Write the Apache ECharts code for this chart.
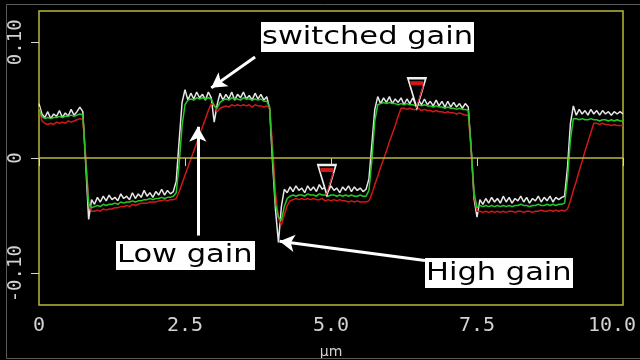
<!DOCTYPE html>
<html>
<head>
<meta charset="utf-8">
<script src="https://cdn.jsdelivr.net/npm/echarts@6/dist/echarts.min.js"></script>
<style>
  html, body { margin: 0; padding: 0; background: #000; }
  #chart { width: 640px; height: 360px; }
</style>
</head>
<body>
<div id="chart"></div>
<script>
// Profile scan: three gain settings sampled every 0.05 µm from 0 to 10 µm
const sampleStep = 0.05;

const highGain = [
  0.047, 0.038, 0.035, 0.040, 0.034, 0.038, 0.036, 0.041, 0.035, 0.039,
  0.036, 0.042, 0.037, 0.040, 0.044, 0.040, -0.005, -0.053, -0.036, -0.040,
  -0.034, -0.038, -0.033, -0.037, -0.032, -0.036, -0.034, -0.037, -0.031, -0.035,
  -0.033, -0.036, -0.030, -0.035, -0.031, -0.034, -0.028, -0.033, -0.030, -0.034,
  -0.029, -0.032, -0.027, -0.032, -0.028, -0.031, -0.029, -0.020, 0.015, 0.048,
  0.059, 0.050, 0.056, 0.051, 0.057, 0.052, 0.055, 0.050, 0.057, 0.052,
  0.031, 0.046, 0.056, 0.050, 0.055, 0.051, 0.057, 0.050, 0.055, 0.052,
  0.057, 0.051, 0.054, 0.050, 0.056, 0.051, 0.055, 0.050, 0.053, 0.042,
  -0.004, -0.045, -0.073, -0.042, -0.027, -0.030, -0.025, -0.029, -0.024, -0.028,
  -0.026, -0.030, -0.024, -0.028, -0.025, -0.029, -0.023, -0.027, -0.025, -0.029,
  -0.024, -0.028, -0.026, -0.030, -0.025, -0.028, -0.024, -0.029, -0.025, -0.028,
  -0.026, -0.029, -0.027, -0.018, 0.012, 0.042, 0.053, 0.047, 0.052, 0.048,
  0.053, 0.047, 0.051, 0.048, 0.052, 0.046, 0.051, 0.047, 0.052, 0.046,
  0.050, 0.046, 0.051, 0.046, 0.049, 0.045, 0.050, 0.045, 0.049, 0.044,
  0.049, 0.044, 0.048, 0.044, 0.047, 0.043, 0.047, 0.044, 0.008, -0.035,
  -0.051, -0.036, -0.040, -0.035, -0.039, -0.034, -0.038, -0.035, -0.039, -0.033,
  -0.038, -0.034, -0.039, -0.035, -0.037, -0.033, -0.038, -0.034, -0.039, -0.035,
  -0.037, -0.033, -0.038, -0.034, -0.037, -0.033, -0.038, -0.034, -0.036, -0.034,
  -0.033, -0.008, 0.030, 0.045, 0.037, 0.042, 0.038, 0.041, 0.037, 0.042,
  0.038, 0.041, 0.037, 0.041, 0.038, 0.040, 0.037, 0.040, 0.038, 0.040,
  0.038
];

const switchedGain = [
  0.042, 0.036, 0.034, 0.035, 0.034, 0.035, 0.035, 0.036, 0.035, 0.036,
  0.036, 0.037, 0.036, 0.037, 0.038, 0.037, -0.002, -0.040, -0.043, -0.042,
  -0.041, -0.042, -0.040, -0.041, -0.040, -0.040, -0.039, -0.040, -0.038, -0.039,
  -0.038, -0.038, -0.037, -0.038, -0.037, -0.037, -0.036, -0.036, -0.035, -0.036,
  -0.035, -0.035, -0.034, -0.035, -0.034, -0.034, -0.033, -0.030, -0.005, 0.028,
  0.046, 0.050, 0.051, 0.050, 0.052, 0.051, 0.052, 0.051, 0.052, 0.051,
  0.045, 0.043, 0.048, 0.050, 0.051, 0.050, 0.052, 0.051, 0.051, 0.050,
  0.052, 0.051, 0.051, 0.050, 0.051, 0.050, 0.051, 0.049, 0.049, 0.044,
  0.000, -0.040, -0.051, -0.054, -0.042, -0.035, -0.033, -0.032, -0.033, -0.032,
  -0.032, -0.033, -0.031, -0.032, -0.032, -0.033, -0.031, -0.032, -0.032, -0.033,
  -0.032, -0.032, -0.033, -0.032, -0.033, -0.032, -0.033, -0.032, -0.033, -0.033,
  -0.032, -0.033, -0.033, -0.028, -0.002, 0.032, 0.046, 0.047, 0.048, 0.047,
  0.048, 0.047, 0.047, 0.046, 0.047, 0.046, 0.047, 0.046, 0.046, 0.045,
  0.046, 0.045, 0.046, 0.045, 0.045, 0.044, 0.045, 0.044, 0.044, 0.043,
  0.044, 0.043, 0.043, 0.042, 0.043, 0.042, 0.042, 0.041, 0.008, -0.030,
  -0.043, -0.041, -0.042, -0.041, -0.042, -0.041, -0.042, -0.041, -0.042, -0.041,
  -0.042, -0.041, -0.042, -0.041, -0.041, -0.040, -0.041, -0.041, -0.042, -0.041,
  -0.041, -0.040, -0.041, -0.041, -0.040, -0.041, -0.040, -0.041, -0.040, -0.040,
  -0.039, -0.018, 0.016, 0.034, 0.034, 0.033, 0.034, 0.033, 0.033, 0.034,
  0.033, 0.033, 0.032, 0.033, 0.033, 0.032, 0.033, 0.032, 0.033, 0.032,
  0.032
];

const lowGain = [
  0.044, 0.032, 0.030, 0.029, 0.030, 0.029, 0.031, 0.030, 0.031, 0.030,
  0.032, 0.031, 0.032, 0.033, 0.034, 0.033, 0.002, -0.038, -0.046, -0.046,
  -0.045, -0.046, -0.044, -0.045, -0.044, -0.044, -0.043, -0.043, -0.042, -0.042,
  -0.041, -0.042, -0.040, -0.041, -0.040, -0.039, -0.039, -0.039, -0.038, -0.038,
  -0.038, -0.037, -0.037, -0.036, -0.037, -0.036, -0.036, -0.035, -0.029, -0.022,
  -0.015, -0.008, -0.001, 0.006, 0.013, 0.020, 0.027, 0.034, 0.041, 0.047,
  0.046, 0.040, 0.043, 0.044, 0.045, 0.044, 0.046, 0.045, 0.046, 0.045,
  0.046, 0.045, 0.046, 0.044, 0.046, 0.045, 0.045, 0.044, 0.045, 0.043,
  0.010, -0.030, -0.052, -0.058, -0.049, -0.041, -0.037, -0.036, -0.035, -0.036,
  -0.035, -0.036, -0.035, -0.036, -0.035, -0.036, -0.036, -0.035, -0.037, -0.036,
  -0.037, -0.036, -0.037, -0.036, -0.037, -0.037, -0.038, -0.037, -0.038, -0.037,
  -0.038, -0.038, -0.038, -0.037, -0.031, -0.023, -0.016, -0.008, -0.001, 0.006,
  0.014, 0.021, 0.028, 0.036, 0.043, 0.043, 0.042, 0.043, 0.042, 0.042,
  0.043, 0.041, 0.042, 0.041, 0.041, 0.040, 0.041, 0.040, 0.040, 0.039,
  0.040, 0.039, 0.039, 0.038, 0.039, 0.038, 0.037, 0.037, 0.008, -0.032,
  -0.046, -0.046, -0.047, -0.046, -0.047, -0.046, -0.047, -0.046, -0.047, -0.046,
  -0.047, -0.046, -0.046, -0.047, -0.046, -0.046, -0.047, -0.046, -0.046, -0.047,
  -0.046, -0.046, -0.045, -0.046, -0.046, -0.045, -0.046, -0.045, -0.046, -0.045,
  -0.046, -0.044, -0.037, -0.028, -0.020, -0.011, -0.003, 0.006, 0.014, 0.022,
  0.030, 0.030, 0.029, 0.030, 0.029, 0.029, 0.028, 0.029, 0.028, 0.028,
  0.028
];

// Axis ticks
const xTicks = [0, 2.5, 5.0, 7.5, 10.0];
const yTicks = [-0.10, 0, 0.10];

// Cursor markers (µm, value at the tip)
const cursors = [[4.93, -0.032], [6.47, 0.043]];

// Annotation arrows: [tail x, tail y, head x, head y] in axis units
const arrows = [
  [3.70, 0.0873, 2.95, 0.0606],   // switched gain
  [2.72, -0.067, 2.72, 0.027],    // low gain
  [6.61, -0.0886, 4.12, -0.072]   // high gain
];

const toPairs = ys => ys.map((v, i) => [Math.round(i * sampleStep * 100) / 100, v]);

const FRAME = '#b9b83c';
const TEXT = '#d2d2d2';

const chart = echarts.init(document.getElementById('chart'), null, { renderer: 'canvas' });

const cursorMarks = [];
cursors.forEach(c => {
  cursorMarks.push({
    coord: c, symbol: 'path://M0,0 L18,0 L9,30 Z', symbolSize: [18, 30], symbolOffset: [0, -15],
    itemStyle: { color: '#000', borderColor: '#f0f0f0', borderWidth: 2 }
  });
  cursorMarks.push({
    coord: c, symbol: 'rect', symbolSize: [13, 4], symbolOffset: [0, -25],
    itemStyle: { color: '#d01818', borderWidth: 0 }
  });
  cursorMarks.push({
    coord: c, symbol: 'path://M18,0 L9,30 L8,30 L16,0 Z', symbolSize: [8, 22], symbolOffset: [3, -11],
    itemStyle: { color: '#d01818', borderWidth: 0 }
  });
});

const option = {
  backgroundColor: '#000',
  animation: false,
  grid: {
    left: 39, right: 17, top: 11, bottom: 55,
    outerBoundsMode: 'none', containLabel: false,
    show: true, backgroundColor: '#000', borderColor: FRAME, borderWidth: 1.5
  },
  xAxis: {
    type: 'value', min: 0, max: 10, interval: 2.5,
    name: 'µm', nameLocation: 'middle', nameGap: 40,
    nameTextStyle: { color: TEXT, fontSize: 14, fontFamily: 'DejaVu Sans' },
    axisLine: { show: false },
    axisTick: { show: true, length: 8, lineStyle: { color: TEXT, width: 1 }, customValues: xTicks },
    axisLabel: {
      color: TEXT, fontSize: 20, fontFamily: 'DejaVu Sans Mono', margin: 11,
      customValues: xTicks, hideOverlap: false,
      formatter: v => (v === 0 ? '0' : v === 10 ? '{edge|10.0}' : v.toFixed(1)),
      rich: {
        edge: { color: TEXT, fontSize: 20, fontFamily: 'DejaVu Sans Mono', padding: [0, 22, 0, 0] }
      }
    },
    splitLine: { show: false }
  },
  yAxis: {
    type: 'value', min: -0.127, max: 0.127,
    axisLine: { show: false },
    axisTick: { show: true, length: 8, lineStyle: { color: TEXT, width: 1 }, customValues: yTicks },
    axisLabel: {
      color: TEXT, fontSize: 19, fontFamily: 'DejaVu Sans Mono', margin: 13, rotate: 90,
      customValues: yTicks,
      formatter: v => (Math.abs(v) < 1e-9 ? '0' : v.toFixed(2))
    },
    splitLine: { show: false }
  },
  series: [
    {
      name: 'zero', type: 'line', data: [], silent: true, z: 1,
      markLine: {
        silent: true, symbol: 'none', label: { show: false },
        lineStyle: { color: FRAME, width: 1.5, type: 'solid' },
        data: [{ yAxis: 0 }]
      }
    },
    {
      name: 'High gain', type: 'line', data: toPairs(highGain), showSymbol: false, z: 2,
      lineStyle: { color: '#e6e6e6', width: 1.5 }, itemStyle: { color: '#e6e6e6' }
    },
    {
      name: 'Low gain', type: 'line', data: toPairs(lowGain), showSymbol: false, z: 3,
      lineStyle: { color: '#d01818', width: 1.5 }, itemStyle: { color: '#d01818' }
    },
    {
      name: 'Switched gain', type: 'line', data: toPairs(switchedGain), showSymbol: false, z: 4,
      lineStyle: { color: '#25c825', width: 1.5 }, itemStyle: { color: '#25c825' },
      markPoint: { silent: true, label: { show: false }, data: cursorMarks }
    },
    {
      name: 'arrows', type: 'line', data: [], silent: true, z: 5,
      markLine: {
        silent: true, label: { show: false },
        symbol: ['none', 'arrow'], symbolSize: [13, 15],
        lineStyle: { color: '#ffffff', width: 3, type: 'solid' },
        data: arrows.map(a => [{ coord: [a[0], a[1]] }, { coord: [a[2], a[3]] }])
      }
    }
  ],
  graphic: [
    {
      type: 'rect', z: 100, silent: true,
      shape: { x: 6.5, y: 4.5, width: 640, height: 354 },
      style: { fill: 'none', stroke: '#5a5a5a', lineWidth: 1 }
    },
    {
      type: 'group', z: 100, silent: true,
      children: [
        { type: 'rect', shape: { x: 261, y: 22, width: 213, height: 30 }, style: { fill: '#fff' } },
        { type: 'text', x: 262, y: 37, scaleX: 1.22,
          style: { text: 'switched gain', font: '25px "DejaVu Sans"', fill: '#000', textAlign: 'left', textVerticalAlign: 'middle' } }
      ]
    },
    {
      type: 'group', z: 100, silent: true,
      children: [
        { type: 'rect', shape: { x: 116, y: 241, width: 139, height: 29 }, style: { fill: '#fff' } },
        { type: 'text', x: 117, y: 255.5, scaleX: 1.22,
          style: { text: 'Low gain', font: '25px "DejaVu Sans"', fill: '#000', textAlign: 'left', textVerticalAlign: 'middle' } }
      ]
    },
    {
      type: 'group', z: 100, silent: true,
      children: [
        { type: 'rect', shape: { x: 425, y: 258, width: 148, height: 30 }, style: { fill: '#fff' } },
        { type: 'text', x: 426, y: 273, scaleX: 1.22,
          style: { text: 'High gain', font: '25px "DejaVu Sans"', fill: '#000', textAlign: 'left', textVerticalAlign: 'middle' } }
      ]
    }
  ]
};

chart.setOption(option);
</script>
</body>
</html>
